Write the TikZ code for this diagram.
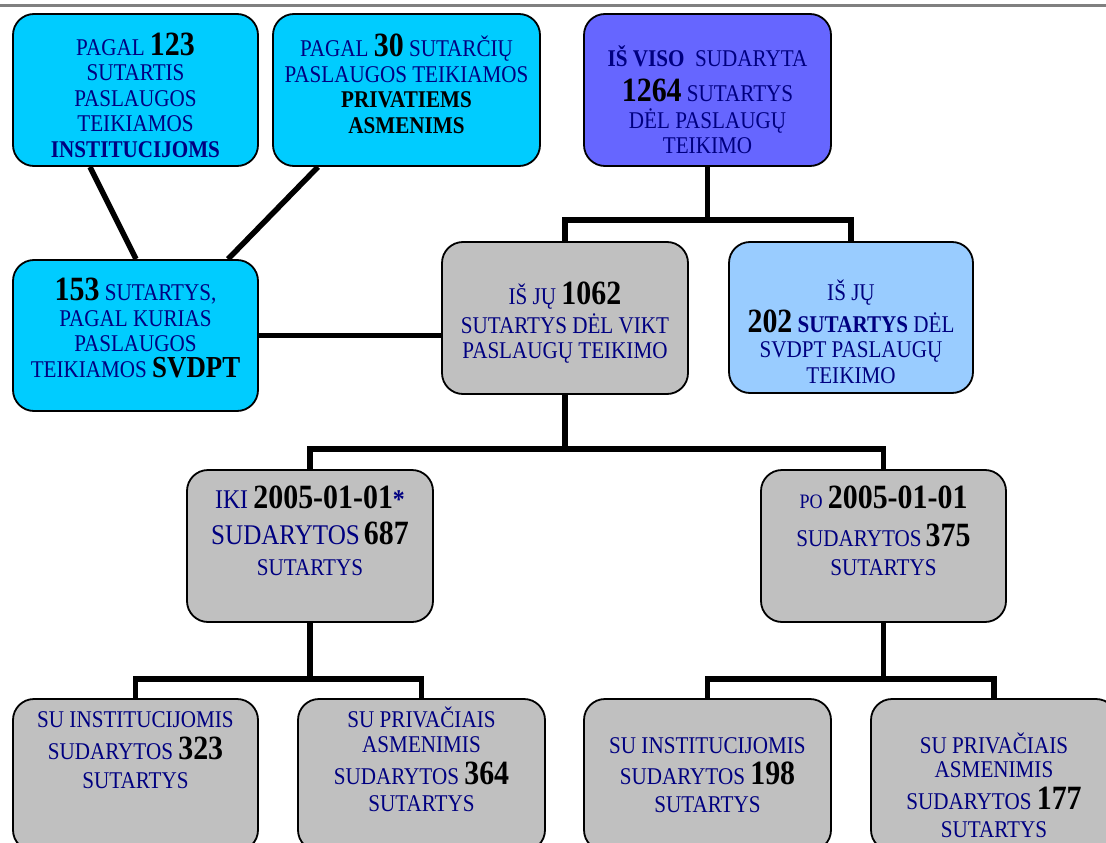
\documentclass[tikz,border=0pt]{standalone}
\usepackage{fontspec}
\setmainfont{Liberation Serif}[FakeStretch=0.88]
\definecolor{navyc}{RGB}{0,0,128}
\definecolor{cyanbox}{RGB}{0,204,255}
\definecolor{violetbox}{RGB}{102,102,255}
\definecolor{lightbluebox}{RGB}{153,204,255}
\definecolor{graybox}{RGB}{192,192,192}
\definecolor{topline}{RGB}{128,128,128}
\newcommand\numb[1]{{\fontsize{34}{34}\selectfont\bfseries\color{black}#1}}
\newcommand\blk[1]{{\bfseries\color{black}#1}}
\newcommand\fs[2]{{\fontsize{#1}{#1}\selectfont #2}}
\newcommand\basefont{\fontsize{24}{25.5}\selectfont\lineskiplimit=-100pt\relax}
\begin{document}
\begin{tikzpicture}[x=1pt,y=-1pt,
  box/.style={draw=black,line width=1.8pt,rounded corners=21pt,inner sep=0pt},
  txt/.style={align=center,inner sep=0pt,text=navyc,font=\basefont},
  conn/.style={draw=black,line width=5.5pt}]
\clip (0,0) rectangle (1106,843);
\fill[white] (0,0) rectangle (1106,843);
\draw[topline,line width=3pt] (0,6) -- (1106,6);
% boxes
\node[box,fill=cyanbox,minimum width=245pt,minimum height=152pt] (A) at (135.5,90) {};
\node[box,fill=cyanbox,minimum width=267pt,minimum height=152pt] (B) at (406.5,90) {};
\node[box,fill=violetbox,minimum width=247pt,minimum height=152pt] (C) at (707.5,90) {};
\node[box,fill=cyanbox,minimum width=245pt,minimum height=151pt] (D) at (135.5,335.5) {};
\node[box,fill=graybox,minimum width=246pt,minimum height=152pt] (E) at (565,318) {};
\node[box,fill=lightbluebox,minimum width=244pt,minimum height=151pt] (F) at (851,317.5) {};
\node[box,fill=graybox,minimum width=246pt,minimum height=152pt] (G) at (310,546) {};
\node[box,fill=graybox,minimum width=245pt,minimum height=152pt] (H) at (883.5,546) {};
\node[box,fill=graybox,minimum width=245pt,minimum height=152pt] (I) at (135.5,775) {};
\node[box,fill=graybox,minimum width=247pt,minimum height=152pt] (J) at (421.5,775) {};
\node[box,fill=graybox,minimum width=247pt,minimum height=152pt] (K) at (707.5,775) {};
\node[box,fill=graybox,minimum width=246pt,minimum height=152pt] (L) at (994,775) {};
% texts
\node[txt] (tA) at (135.5,95) {PAGAL \numb{123}\\SUTARTIS\\PASLAUGOS\\TEIKIAMOS\\\textbf{INSTITUCIJOMS}};
\node[txt] (tB) at (406.5,84) {PAGAL \numb{30} SUTARČIŲ\\PASLAUGOS TEIKIAMOS\\\blk{PRIVATIEMS}\\\blk{ASMENIMS}};
\node[txt] (tC) at (707.5,100) {\textbf{IŠ VISO}\ \ SUDARYTA\\[9pt]\numb{1264} SUTARTYS\\[1.5pt]DĖL PASLAUGŲ\\TEIKIMO};
\node[txt] (tD) at (135.5,328) {\numb{153} SUTARTYS,\\PAGAL KURIAS\\PASLAUGOS\\TEIKIAMOS \fs{30.5}{\blk{SVDPT}}};
\node[txt] (tE) at (565,323) {IŠ JŲ \numb{1062}\\[3pt]SUTARTYS DĖL VIKT\\PASLAUGŲ TEIKIMO};
\node[txt] (tF) at (851,332) {IŠ JŲ\\[6pt]\numb{202} \textbf{SUTARTYS} DĖL\\SVDPT PASLAUGŲ\\TEIKIMO};
\node[txt] (tG) at (310,530.5) {\fs{27}{IKI} \numb{2005-01-01}\fs{27}{\bfseries *}\\[11pt]\fs{28.5}{SUDARYTOS}\,\numb{687}\\[5pt]SUTARTYS};
\node[txt] (tH) at (883.5,530.5) {\fs{20.5}{PO} \numb{2005-01-01}\\[13pt]SUDARYTOS\,\numb{375}\\[3pt]SUTARTYS};
\node[txt] (tI) at (135.5,750) {SU INSTITUCIJOMIS\\[7pt]SUDARYTOS \numb{323}\\[3pt]SUTARTYS};
\node[txt] (tJ) at (421.5,759) {SU PRIVAČIAIS\\ASMENIMIS\\[6pt]SUDARYTOS \numb{364}\\[1.5pt]SUTARTYS};
\node[txt] (tK) at (707.5,775) {SU INSTITUCIJOMIS\\[6pt]SUDARYTOS \numb{198}\\[2pt]SUTARTYS};
\node[txt] (tL) at (994,785) {SU PRIVAČIAIS\\[-1.5pt]ASMENIMIS\\[7pt]SUDARYTOS \numb{177}\\[2pt]SUTARTYS};
% connectors
\coordinate (jC) at (707.5,220);
\coordinate (jE) at (565,449);
\coordinate (jG) at (310,679);
\coordinate (jH) at (883.5,679);
\draw[conn] ([xshift=-45.5pt]A.south) -- ([xshift=0.5pt]D.north);
\draw[conn] ([xshift=-88.5pt]B.south) -- ([xshift=92.5pt]D.north);
\draw[conn] (D.east) -- (D.east -| E.west);
\draw[conn] (C.south) -- (jC);
\draw[conn] (E.north) |- (F.north |- jC) -- (F.north);
\draw[conn] (E.south) -- (jE);
\draw[conn] (G.north) |- (H.north |- jE) -- (H.north);
\draw[conn] (G.south) -- (jG);
\draw[conn] (I.north) |- (J.north |- jG) -- (J.north);
\draw[conn] (H.south) -- (jH);
\draw[conn] (K.north) |- (L.north |- jH) -- (L.north);
\end{tikzpicture}
\end{document}
